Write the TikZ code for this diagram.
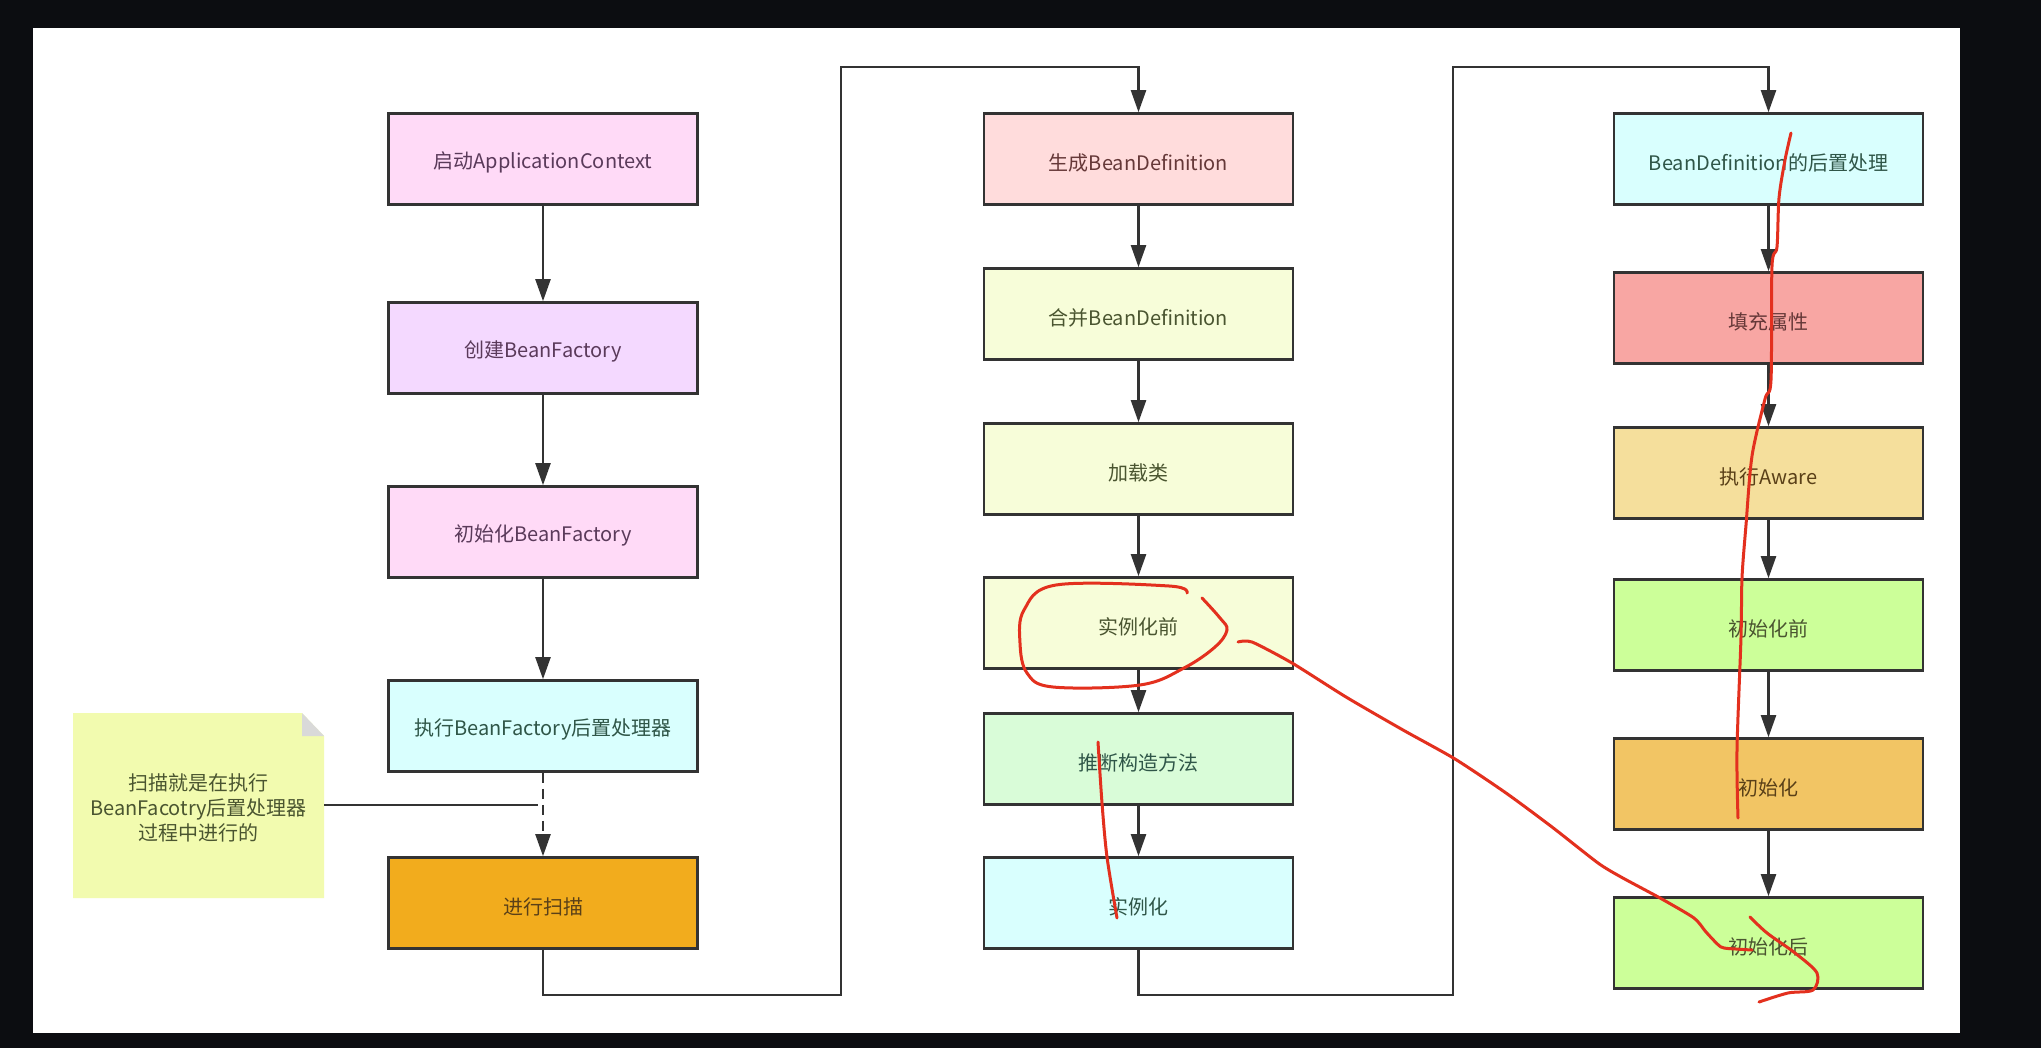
\documentclass[tikz,border=0pt]{standalone}
\usepackage{fontspec}
\setmainfont{Noto Sans CJK SC}
\usetikzlibrary{arrows.meta}
\definecolor{bgdark}{HTML}{0C0D11}
\definecolor{edge}{HTML}{333333}
\definecolor{cPink}{HTML}{FFDAF7}
\definecolor{cLav}{HTML}{F4D9FF}
\definecolor{cCyan}{HTML}{D9FFFE}
\definecolor{cOrange}{HTML}{F2AC1D}
\definecolor{cRose}{HTML}{FFDCDC}
\definecolor{cPale}{HTML}{F7FDD9}
\definecolor{cMint}{HTML}{D9FCD8}
\definecolor{cSalmon}{HTML}{F8A6A3}
\definecolor{cSand}{HTML}{F5DF9C}
\definecolor{cLime}{HTML}{CCFF99}
\definecolor{cGold}{HTML}{F2C564}
\definecolor{cNote}{HTML}{F2FBAF}
\definecolor{cEar}{HTML}{D9D9D9}
\definecolor{pen}{HTML}{E3301E}
\definecolor{tPurple}{HTML}{5A3A5A}
\definecolor{tGreen}{HTML}{2F5648}
\definecolor{tBrown}{HTML}{5A4018}
\definecolor{tOlive}{HTML}{4A5530}
\definecolor{tRed}{HTML}{653838}
\newcommand{\dnText}[1]{\raisebox{-1.8pt}[\height][\depth]{#1}}
\begin{document}
\begin{tikzpicture}[x=0.5pt,y=-0.5pt,
  stepbox/.style={draw=edge, line width=1.3pt, minimum width=154.5pt, minimum height=45.5pt,
    inner sep=0pt, font=\fontsize{10}{12}\selectfont},
  arr/.style={draw=edge, line width=1.1pt, -{Triangle[length=11pt,width=7.5pt]}},
  plain/.style={draw=edge, line width=1.1pt},
  redpen/.style={draw=pen, line width=1.5pt, line cap=round, line join=round}]
% background and panel
\fill[bgdark] (0,0) rectangle (2041,1048);
\fill[white] (33,28) rectangle (1960,1033);
% column 1
\node[stepbox, fill=cPink, text=tPurple] (a1) at (543,159) {\dnText{启动ApplicationContext}};
\node[stepbox, fill=cLav, text=tPurple] (a2) at (543,348) {\dnText{创建BeanFactory}};
\node[stepbox, fill=cPink, text=tPurple] (a3) at (543,532) {\dnText{初始化BeanFactory}};
\node[stepbox, fill=cCyan, text=tGreen] (a4) at (543,726) {\dnText{执行BeanFactory后置处理器}};
\node[stepbox, fill=cOrange, text=tBrown] (a5) at (543,903) {\dnText{进行扫描}};
% column 2
\node[stepbox, fill=cRose, text=tRed] (b1) at (1138.5,159) {\dnText{生成BeanDefinition}};
\node[stepbox, fill=cPale, text=tOlive] (b2) at (1138.5,314) {\dnText{合并BeanDefinition}};
\node[stepbox, fill=cPale, text=tOlive] (b3) at (1138.5,469) {\dnText{加载类}};
\node[stepbox, fill=cPale, text=tOlive] (b4) at (1138.5,623) {\dnText{实例化前}};
\node[stepbox, fill=cMint, text=tGreen] (b5) at (1138.5,759) {\dnText{推断构造方法}};
\node[stepbox, fill=cCyan, text=tGreen] (b6) at (1138.5,903) {\dnText{实例化}};
% column 3
\node[stepbox, fill=cCyan, text=tGreen] (d1) at (1768.5,159) {\dnText{BeanDefinition的后置处理}};
\node[stepbox, fill=cSalmon, text=tRed] (d2) at (1768.5,318) {\dnText{填充属性}};
\node[stepbox, fill=cSand, text=tBrown] (d3) at (1768.5,473) {\dnText{执行Aware}};
\node[stepbox, fill=cLime, text=tOlive] (d4) at (1768.5,625) {\dnText{初始化前}};
\node[stepbox, fill=cGold, text=tBrown] (d5) at (1768.5,784) {\dnText{初始化}};
\node[stepbox, fill=cLime, text=tOlive] (d6) at (1768.5,943) {\dnText{初始化后}};
% note
\fill[cNote] (73,713) -- (302,713) -- (324,736) -- (324,898) -- (73,898) -- cycle;
\fill[cEar] (302,713) -- (302,736) -- (324,736) -- cycle;
\node[align=center, text=tOlive, font=\fontsize{10}{12.5}\selectfont, inner sep=0pt] (note) at (198.5,808)
  {扫描就是在执行\\BeanFacotry后置处理器\\过程中进行的};
\coordinate (nend) at (538,805);
\draw[plain] (324,805) -- (nend);
% connectors
\draw[arr] (a1) -- (a2);
\draw[arr] (a2) -- (a3);
\draw[arr] (a3) -- (a4);
\draw[arr, dash pattern=on 5pt off 3pt] (a4) -- (a5);
\coordinate (c1) at (841,995);
\coordinate (c2) at (841,67);
\draw[arr] (a5.south) |- (c1) -- (c2) -| (b1.north);
\draw[arr] (b1) -- (b2);
\draw[arr] (b2) -- (b3);
\draw[arr] (b3) -- (b4);
\draw[arr] (b4) -- (b5);
\draw[arr] (b5) -- (b6);
\coordinate (c3) at (1453,995);
\coordinate (c4) at (1453,67);
\draw[arr] (b6.south) |- (c3) -- (c4) -| (d1.north);
\draw[arr] (d1) -- (d2);
\draw[arr] (d2) -- (d3);
\draw[arr] (d3) -- (d4);
\draw[arr] (d4) -- (d5);
\draw[arr] (d5) -- (d6);
% red hand-drawn marks
\draw[redpen] plot[smooth, tension=0.6] coordinates {(1202,598) (1220,618) (1227,630) (1215,647) (1184,668) (1140,685) (1053,687) (1027,673) (1020,643) (1024,610) (1056,585) (1169,586) (1187,593)};
\draw[redpen] plot[smooth, tension=0.4] coordinates {(1238,642) (1252,642) (1292,663) (1346,697) (1403,730) (1455,759) (1506,793) (1552,827) (1598,863) (1621,877) (1660,898) (1694,918) (1706,932) (1721,947) (1736,949) (1752,950)};
\draw[redpen] plot[smooth, tension=0.5] coordinates {(1750,917) (1767,933) (1795,953) (1817,973) (1813,990) (1788,993) (1759,1002)};
\draw[redpen] plot[smooth, tension=0.5] coordinates {(1098,742) (1102,803) (1107,857) (1117,918)};
\draw[redpen] plot[smooth, tension=0.5] coordinates {(1791,133) (1785,160) (1779,198) (1777,247) (1772,266) (1771,380) (1765,399) (1752,456) (1746,525) (1742,578) (1741,637) (1737,750) (1738,818)};
\end{tikzpicture}
\end{document}
